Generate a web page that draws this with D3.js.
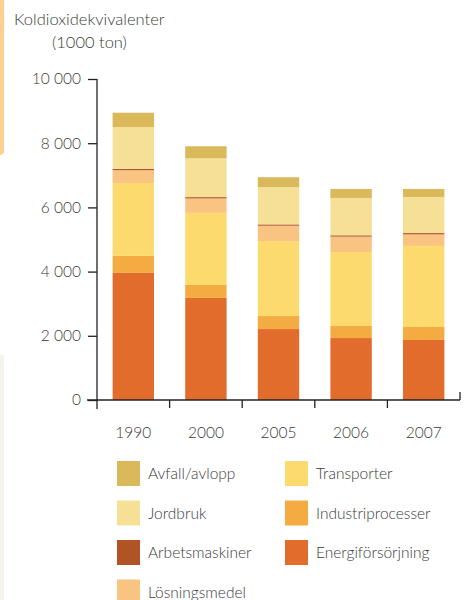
<!DOCTYPE html>
<html>
<head>
<meta charset="utf-8">
<script src="https://cdn.jsdelivr.net/npm/d3@7.9.0/dist/d3.min.js"></script>
<style>
  body { margin: 0; background: #fff; }
  svg { display: block; font-family: 'Lato', 'Open Sans', sans-serif; font-weight: 300; }
</style>
</head>
<body>
<svg id="chart" width="469" height="600"></svg>
<script>
const years = ['1990', '2000', '2005', '2006', '2007'];
// stacked bottom -> top
const sectors = ['Energiförsörjning', 'Industriprocesser', 'Transporter', 'Lösningsmedel', 'Arbetsmaskiner', 'Jordbruk', 'Avfall/avlopp'];
const colors = ['#e26c2b', '#f4ab42', '#fdda6e', '#f9c482', '#b05425', '#f5e096', '#d9b95a'];

const energi = [3960, 3180, 2210, 1930, 1870];
const industri = [530, 405, 405, 375, 405];
const transport = [2270, 2245, 2335, 2305, 2525];
const losning = [400, 450, 480, 480, 360];
const arbets = [40, 40, 40, 40, 40];
const jordbruk = [1305, 1210, 1160, 1165, 1125];
const avfall = [445, 375, 310, 280, 250];

const yTicks = [0, 2000, 4000, 6000, 8000, 10000];
const legendOrder = ['Avfall/avlopp', 'Transporter', 'Jordbruk', 'Industriprocesser', 'Arbetsmaskiner', 'Energiförsörjning', 'Lösningsmedel'];

const seriesValues = [energi, industri, transport, losning, arbets, jordbruk, avfall];
const rows = years.map((y, i) => {
  const r = { year: y };
  sectors.forEach((s, k) => { r[s] = seriesValues[k][i]; });
  return r;
});

const svg = d3.select('#chart');
const color = d3.scaleOrdinal().domain(sectors).range(colors);

const x = d3.scaleBand().domain(years).range([97, 460]).paddingInner(0.43).paddingOuter(0.215);
const y = d3.scaleLinear().domain([0, 10000]).range([400, 79]);

// side decorations
svg.append('rect').attr('x', -6).attr('y', -6).attr('width', 10).attr('height', 161).attr('rx', 4).attr('fill', '#fdd08f');
svg.append('rect').attr('x', 0).attr('y', 355).attr('width', 4).attr('height', 245).attr('fill', '#f5f3ea');

// title
svg.append('text').attr('x', 14).attr('y', 25).attr('font-size', 16.5).attr('fill', '#3a3a3a').text('Koldioxidekvivalenter');
svg.append('text').attr('x', 52).attr('y', 48).attr('font-size', 16.5).attr('fill', '#3a3a3a').text('(1000 ton)');

const stack = d3.stack().keys(sectors)(rows);

svg.append('g').selectAll('g').data(stack).join('g')
  .attr('fill', d => color(d.key))
  .selectAll('rect').data(d => d).join('rect')
  .attr('x', d => x(d.data.year))
  .attr('width', x.bandwidth())
  .attr('y', d => y(d[1]))
  .attr('height', d => y(d[0]) - y(d[1]));

// y axis
const yAxis = d3.axisLeft(y).tickValues(yTicks).tickSize(9).tickPadding(7)
  .tickFormat(d => d3.format(',')(d).replace(',', ' '));
const ga = svg.append('g').attr('transform', 'translate(97,0)').call(yAxis);
ga.select('.domain').remove();
ga.selectAll('line').attr('stroke', '#222').attr('stroke-width', 1.3);
ga.selectAll('text').attr('font-size', 15.5).attr('fill', '#3a3a3a').attr('font-family', "'Lato', sans-serif");
svg.append('line').attr('x1', 97).attr('x2', 97).attr('y1', y(10000)).attr('y2', 409).attr('stroke', '#222').attr('stroke-width', 1.3);

// x axis
svg.append('line').attr('x1', 87).attr('x2', 460).attr('y1', 400).attr('y2', 400).attr('stroke', '#222').attr('stroke-width', 1.3);
const step = x.step();
const bounds = years.slice(1).map(yr => x(yr) - x.paddingInner() * step / 2);
svg.append('g').selectAll('line').data(bounds).join('line')
  .attr('x1', d => d).attr('x2', d => d).attr('y1', 400).attr('y2', 408)
  .attr('stroke', '#222').attr('stroke-width', 1.3);
svg.append('line').attr('x1', 460).attr('x2', 460).attr('y1', 392).attr('y2', 400).attr('stroke', '#222').attr('stroke-width', 1.3);
svg.append('g').selectAll('text').data(years).join('text')
  .attr('x', d => x(d) + x.bandwidth() / 2).attr('y', 438)
  .attr('text-anchor', 'middle').attr('font-size', 15.5).attr('fill', '#3a3a3a')
  .text(d => d);

// legend
const leg = svg.append('g').selectAll('g').data(legendOrder).join('g')
  .attr('transform', (d, i) => `translate(${i % 2 === 0 ? 117 : 285},${461 + Math.floor(i / 2) * 39.5})`);
leg.append('rect').attr('width', 23).attr('height', 25).attr('fill', d => color(d));
leg.append('text').attr('x', 31).attr('y', 18).attr('font-size', 15.5).attr('fill', '#3a3a3a').text(d => d);
</script>
</body>
</html>
